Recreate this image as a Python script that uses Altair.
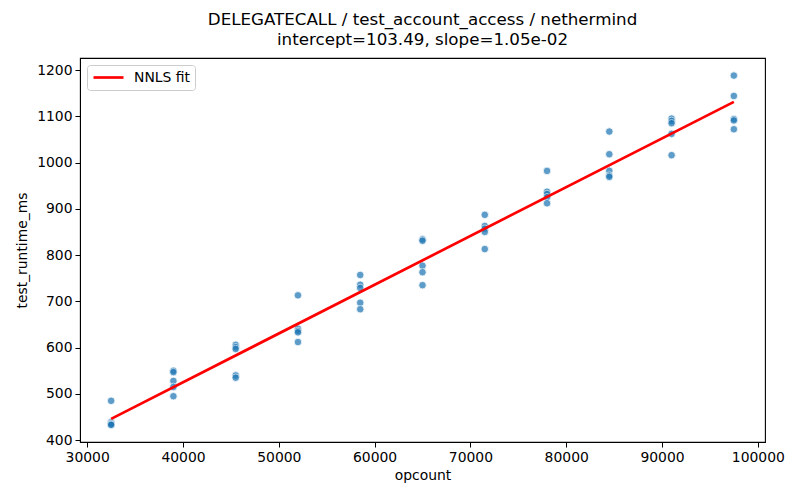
import altair as alt
import pandas as pd

# ---- data ----
OPCOUNTS = [32500, 39000, 45500, 52000, 58500, 65000, 71500, 78000, 84500, 91000, 97500]
RT_32500 = [485, 439, 436, 434, 433]
RT_39000 = [550, 547, 528, 515, 495]
RT_45500 = [606, 601, 597, 540, 535]
RT_52000 = [713, 641, 636, 633, 612]
RT_58500 = [757, 736, 729, 697, 683]
RT_65000 = [834, 831, 777, 763, 735]
RT_71500 = [887, 863, 857, 850, 813]
RT_78000 = [982, 937, 932, 925, 912]
RT_84500 = [1067, 1018, 982, 972, 969]
RT_91000 = [1095, 1090, 1085, 1062, 1016]
RT_97500 = [1188, 1144, 1094, 1091, 1072]
RUNTIMES = [RT_32500, RT_39000, RT_45500, RT_52000, RT_58500, RT_65000,
            RT_71500, RT_78000, RT_84500, RT_91000, RT_97500]

INTERCEPT = 103.49
SLOPE = 0.01054
FIT_X = [32500, 97500]
FIT_LABEL = "NNLS fit"

TITLE = ["DELEGATECALL / test_account_access / nethermind",
         "intercept=103.49, slope=1.05e-02"]

rows = []
for oc, vals in zip(OPCOUNTS, RUNTIMES):
    for v in vals:
        rows.append({"opcount": oc, "test_runtime_ms": v})
points = pd.DataFrame(rows)
fit = pd.DataFrame({"opcount": FIT_X,
                    "test_runtime_ms": [INTERCEPT + SLOPE * x for x in FIT_X],
                    "series": [FIT_LABEL] * len(FIT_X)})

FONT = "DejaVu Sans"
x_scale = alt.Scale(domain=[29250, 100750], nice=False, zero=False)
y_scale = alt.Scale(domain=[396, 1226], nice=False, zero=False)

x_enc = alt.X("opcount:Q", scale=x_scale,
              axis=alt.Axis(title="opcount", values=list(range(30000, 100001, 10000)),
                            format="d", titlePadding=5))
y_enc = alt.Y("test_runtime_ms:Q", scale=y_scale,
              axis=alt.Axis(title="test_runtime_ms", values=list(range(400, 1201, 100)),
                            format="d", titlePadding=7))

scatter = alt.Chart(points).mark_circle(
    size=57, color="#1f77b4", opacity=0.72, stroke="white", strokeWidth=0.8
).encode(x=x_enc, y=y_enc)

line = alt.Chart(fit).mark_line(strokeWidth=2.7).encode(
    x="opcount:Q", y="test_runtime_ms:Q",
    color=alt.Color("series:N",
                    scale=alt.Scale(domain=[FIT_LABEL], range=["red"]),
                    legend=alt.Legend(title=None, orient="top-left", offset=7,
                                      padding=5, strokeColor="#cccccc",
                                      fillColor="white", cornerRadius=3,
                                      symbolType="stroke", symbolSize=900,
                                      symbolStrokeWidth=2.7, clipHeight=15,
                                      labelOffset=9, labelFontSize=13.9,
                                      labelFont=FONT, labelColor="black"))
)

chart = alt.layer(scatter, line).properties(
    width=685, height=384,
    background="white",
    autosize=alt.AutoSizeParams(type="none"),
    padding={"left": 72, "top": 50, "right": 26, "bottom": 50},
    title=alt.TitleParams(text=TITLE, font=FONT, fontSize=16.7, fontWeight="normal",
                          color="black", anchor="middle", offset=9, lineHeight=20),
).configure_view(stroke="black", strokeWidth=1.1).configure_axis(
    grid=False, domainColor="black", tickColor="black", tickSize=5, tickWidth=1,
    labelColor="black", titleColor="black", labelFont=FONT, titleFont=FONT,
    labelFontSize=13.9, titleFontSize=13.9, titleFontWeight="normal",
    labelPadding=3, domainWidth=1
)

chart.save("out.html", embed_options={"renderer": "svg", "actions": False})
